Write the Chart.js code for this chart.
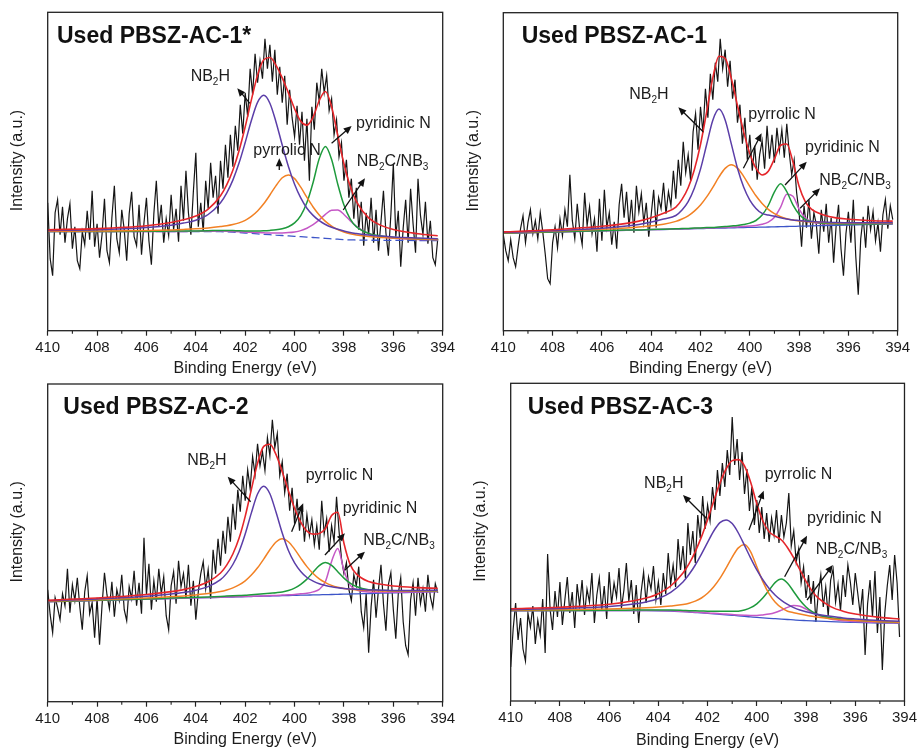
<!DOCTYPE html>
<html>
<head>
<meta charset="utf-8">
<title>N 1s XPS of used PBSZ-AC samples</title>
<script src="https://cdn.jsdelivr.net/npm/chart.js@4.4.1/dist/chart.umd.min.js"></script>
<style>
  body { margin: 0; background: #fff; width: 917px; height: 750px; overflow: hidden; position: relative; }
  canvas { position: absolute; }
</style>
</head>
<body>
<canvas id="p1" width="460" height="380" style="left:0px;top:0px"></canvas>
<canvas id="p2" width="457" height="380" style="left:460px;top:0px"></canvas>
<canvas id="p3" width="460" height="380" style="left:0px;top:370px"></canvas>
<canvas id="p4" width="460" height="380" style="left:460px;top:370px"></canvas>
<script>
// ---- data (binding energy in eV, intensity in arbitrary units) ----

const energyRaw = [
  410, 409.9, 409.8, 409.7, 409.6, 409.5, 409.4, 409.3, 409.2, 409.1,
  409, 408.9, 408.8, 408.7, 408.6, 408.5, 408.4, 408.3, 408.2, 408.1,
  408, 407.9, 407.8, 407.7, 407.6, 407.5, 407.4, 407.3, 407.2, 407.1,
  407, 406.9, 406.8, 406.7, 406.6, 406.5, 406.4, 406.3, 406.2, 406.1,
  406, 405.9, 405.8, 405.7, 405.6, 405.5, 405.4, 405.3, 405.2, 405.1,
  405, 404.9, 404.8, 404.7, 404.6, 404.5, 404.4, 404.3, 404.2, 404.1,
  404, 403.9, 403.8, 403.7, 403.6, 403.5, 403.4, 403.3, 403.2, 403.1,
  403, 402.9, 402.8, 402.7, 402.6, 402.5, 402.4, 402.3, 402.2, 402.1,
  402, 401.9, 401.8, 401.7, 401.6, 401.5, 401.4, 401.3, 401.2, 401.1,
  401, 400.9, 400.8, 400.7, 400.6, 400.5, 400.4, 400.3, 400.2, 400.1,
  400, 399.9, 399.8, 399.7, 399.6, 399.5, 399.4, 399.3, 399.2, 399.1,
  399, 398.9, 398.8, 398.7, 398.6, 398.5, 398.4, 398.3, 398.2, 398.1,
  398, 397.9, 397.8, 397.7, 397.6, 397.5, 397.4, 397.3, 397.2, 397.1,
  397, 396.9, 396.8, 396.7, 396.6, 396.5, 396.4, 396.3, 396.2, 396.1,
  396, 395.9, 395.8, 395.7, 395.6, 395.5, 395.4, 395.3, 395.2, 395.1,
  395, 394.9, 394.8, 394.7, 394.6, 394.5, 394.4, 394.3, 394.2
];

const energyFit = [410, 408, 406, 405, 404.5, 404, 403.5, 403, 402.75, 402.5, 402.25, 402,
  401.75, 401.5, 401.25, 401, 400.75, 400.5, 400.25, 400, 399.75, 399.5, 399.25, 399,
  398.75, 398.5, 398.25, 398, 397.75, 397.5, 397, 396.5, 396, 395, 394.2];

// unlabeled minor ticks between the labeled ones
const minorTicks = [409, 407, 405, 403, 401, 399, 397, 395];

// Used PBSZ-AC-1*
const rawP1 = [
  128, 72, 55, 118, 131, 96, 124, 88, 112, 127,
  82, 104, 70, 62, 99, 86, 120, 91, 140, 84,
  107, 73, 96, 132, 80, 68, 113, 145, 92, 78,
  121, 101, 70, 117, 139, 94, 85, 126, 76, 108,
  133, 90, 66, 117, 150, 104, 126, 88, 112, 95,
  136, 101, 122, 89, 145, 110, 160, 118, 96, 139,
  178, 104, 128, 99, 150, 122, 168, 133, 155, 117,
  170, 142, 186, 153, 196, 164, 205, 180, 226, 197,
  238, 214, 262, 236, 277, 248, 270, 252, 292, 262,
  286, 249, 281, 236, 264, 228, 255, 206, 241, 213,
  194, 225, 186, 219, 170, 212, 150, 224, 201, 248,
  229, 262, 238, 255, 220, 232, 196, 211, 174, 188,
  150, 171, 133, 152, 112, 143, 101, 129, 85, 118,
  96, 133, 88, 121, 80, 109, 140, 98, 75, 116,
  167, 94, 120, 64, 103, 131, 88, 142, 107, 78,
  152, 115, 96, 129, 87, 110, 73, 66, 92
];
const envP1 = [101.0, 102.1, 105.0, 108.2, 110.9, 114.6, 121.5, 134.9, 145.8, 160.5, 179.9, 203.9,
  230.8, 255.4, 270.9, 273.2, 265.4, 252.8, 237.8, 222.0, 209.5, 205.6, 213.6, 230.2,
  239.2, 224.0, 195.2, 166.9, 144.6, 129.4, 112.8, 105.3, 101.2, 96.9, 94.9];
const nb2hP1 = [100.3, 101.0, 103.2, 105.5, 107.6, 110.5, 116.2, 127.9, 137.6, 150.6, 167.6, 188.2,
  210.2, 228.3, 235.4, 227.5, 208.5, 185.7, 164.3, 146.5, 132.8, 122.5, 115.3, 110.0,
  106.2, 103.4, 101.4, 99.7, 98.2, 97.2, 95.6, 94.6, 93.8, 92.7, 91.9];
const pyrrolicP1 = [99.4, 99.7, 100.2, 100.8, 101.3, 101.9, 102.8, 104.1, 104.9, 106.1, 107.8, 110.4,
  114.3, 119.7, 126.9, 135.7, 145.1, 152.9, 155.8, 152.1, 143.5, 133.3, 123.7, 115.7,
  109.3, 104.6, 101.2, 98.7, 96.9, 95.8, 94.3, 93.3, 92.6, 91.7, 91.2];
const pyridinicP1 = [99.2, 99.3, 99.4, 99.6, 99.7, 99.8, 100.0, 100.3, 100.2, 100.1, 99.9, 99.8,
  99.8, 99.7, 99.9, 100.3, 100.9, 102.0, 104.0, 107.8, 115.1, 128.1, 148.2, 172.1,
  184.3, 171.2, 146.5, 125.6, 111.9, 104.1, 97.3, 94.7, 93.2, 91.8, 91.1];
const nb2cP1 = [99.1, 99.1, 99.2, 99.3, 99.3, 99.4, 99.5, 99.6, 99.5, 99.2, 98.9, 98.6,
  98.4, 98.1, 97.9, 97.7, 97.7, 97.8, 98.1, 98.8, 100.1, 102.5, 106.0, 110.8,
  116.3, 120.5, 120.6, 116.2, 110.0, 104.4, 97.1, 93.9, 92.5, 91.3, 90.7];
const baseP1 = [99, 99, 99, 99, 99, 99, 99, 99, 98.8, 98.5, 98.1, 97.7,
  97.3, 96.8, 96.4, 96, 95.6, 95.2, 94.8, 94.4, 94, 93.6, 93.2, 92.8,
  92.3, 91.9, 91.5, 91.1, 90.8, 90.7, 90.5, 90.4, 90.3, 90.2, 90];

// Used PBSZ-AC-1
const rawP2 = [
  96, 80, 70, 91, 73, 64, 84, 102, 115, 88,
  108, 121, 97, 110, 92, 118, 99, 77, 52, 47,
  88, 104, 83, 112, 95, 121, 104, 156, 110, 92,
  127, 101, 86, 138, 105, 124, 97, 112, 79, 132,
  90, 141, 103, 118, 86, 109, 82, 126, 147, 113,
  139, 104, 131, 98, 145, 119, 137, 108, 128, 94,
  116, 141, 103, 133, 122, 148, 117, 139, 125, 160,
  132, 171, 145, 189, 158, 176, 150, 199, 217, 181,
  224, 198, 242, 213, 257, 231, 268, 249, 292, 262,
  281, 244, 270, 232, 251, 208, 226, 187, 213, 171,
  196, 160, 185, 151, 176, 190, 162, 205, 172, 196,
  168, 203, 180, 201, 173, 207, 178, 156, 171, 138,
  118, 84, 125, 103, 131, 92, 118, 106, 77, 121,
  99, 127, 88, 113, 68, 104, 126, 82, 55, 97,
  119, 88, 131, 74, 36, 92, 114, 83, 125, 101,
  119, 90, 108, 79, 116, 131, 102, 125, 111
];
const envP2 = [98.8, 101.0, 104.4, 107.3, 109.6, 112.9, 117.4, 123.6, 131.3, 142.9, 161.0, 186.2,
  218.8, 252.8, 274.5, 272.4, 252.3, 225.2, 199.1, 177.3, 162.5, 155.7, 159.5, 171.9,
  185.4, 186.7, 168.7, 144.4, 129.1, 121.5, 115.7, 112.8, 111.5, 110.0, 109.6];
const nb2hP2 = [98.2, 100.0, 102.5, 104.7, 106.3, 108.6, 111.7, 115.2, 120.6, 129.1, 142.5, 161.6,
  186.2, 210.5, 221.6, 210.8, 186.8, 162.5, 143.7, 130.6, 122.3, 117.3, 115.6, 114.4,
  112.9, 111.8, 110.8, 110.2, 109.6, 109.1, 108.6, 108.1, 108.0, 107.9, 108.0];
const pyrrolicP2 = [97.9, 99.5, 101.4, 102.7, 103.6, 104.9, 106.4, 109.3, 111.7, 114.9, 119.6, 125.7,
  133.8, 143.4, 153.8, 162.3, 165.9, 162.6, 154.4, 144.3, 134.9, 127.2, 121.3, 117.0,
  114.0, 112.0, 110.6, 109.7, 109.1, 108.7, 108.1, 107.7, 107.6, 107.6, 107.7];
const pyridinicP2 = [97.5, 98.7, 100.0, 100.6, 100.8, 101.3, 101.5, 101.9, 102.2, 102.3, 102.6, 102.8,
  103.1, 103.3, 103.8, 104.1, 104.7, 105.3, 106.3, 107.6, 110.2, 115.6, 125.2, 138.8,
  147.0, 139.1, 125.8, 116.5, 111.4, 109.1, 107.4, 106.8, 106.6, 106.8, 107.1];
const nb2cP2 = [97.4, 98.6, 99.9, 100.5, 100.7, 101.1, 101.4, 101.7, 101.9, 102.0, 102.3, 102.4,
  102.6, 102.8, 103.1, 103.3, 103.6, 103.8, 104.3, 104.7, 105.3, 106.4, 108.5, 113.4,
  123.5, 136.4, 134.4, 121.5, 112.8, 109.0, 106.9, 106.4, 106.4, 106.6, 106.9];
const baseP2 = [97.4, 98.6, 99.8, 100.4, 100.6, 101, 101.2, 101.5, 101.7, 101.8, 102, 102.1,
  102.3, 102.4, 102.6, 102.7, 102.9, 103, 103.2, 103.3, 103.4, 103.6, 103.7, 103.9,
  104, 104.2, 104.3, 104.5, 104.6, 104.8, 105.1, 105.4, 105.7, 106.3, 106.7];

// Used PBSZ-AC-2
const rawP3 = [
  112, 87, 69, 104, 94, 82, 108, 96, 133, 89,
  117, 101, 124, 95, 72, 110, 126, 88, 99, 64,
  104, 57, 96, 129, 107, 93, 120, 85, 112, 101,
  127, 92, 81, 115, 103, 131, 96, 119, 88, 164,
  107, 138, 92, 121, 100, 133, 108, 125, 86, 72,
  116, 130, 98, 141, 115, 128, 104, 137, 96, 121,
  82, 110, 128, 140, 113, 132, 103, 152, 128, 163,
  136, 171, 148, 185, 160, 198, 172, 212, 190, 226,
  201, 232, 213, 245, 227, 258, 236, 250, 231, 264,
  246, 282, 254, 268, 226, 240, 209, 228, 191, 214,
  178, 203, 171, 196, 160, 187, 166, 182, 157, 176,
  152, 201, 168, 183, 150, 176, 160, 205, 171, 143,
  128, 139, 112, 101, 127, 116, 135, 90, 74, 108,
  49, 95, 122, 84, 113, 137, 98, 71, 117, 129,
  92, 63, 108, 124, 80, 56, 47, 102, 119, 86,
  124, 98, 113, 90, 127, 105, 94, 118, 109
];
const envP3 = [101.5, 103.7, 107.2, 110.1, 112.1, 115.2, 119.9, 128.7, 136.6, 147.7, 163.4, 185.3,
  212.3, 238.5, 255.3, 257.5, 247.0, 230.0, 211.0, 193.4, 179.6, 170.6, 167.6, 168.3,
  173.2, 186.2, 189.5, 158.5, 137.3, 127.8, 120.1, 117.5, 115.7, 114.1, 113.4];
const nb2hP3 = [100.9, 102.8, 105.5, 107.7, 109.2, 111.5, 115.1, 122.0, 128.3, 137.2, 150.0, 167.7,
  188.8, 207.7, 215.5, 208.0, 189.4, 168.7, 151.2, 138.8, 130.2, 124.2, 120.6, 117.9,
  116.2, 114.9, 114.0, 113.3, 112.8, 112.4, 111.8, 111.5, 111.2, 111.3, 111.4];
const pyrrolicP3 = [100.5, 102.0, 103.8, 105.1, 105.8, 106.8, 108.1, 110.1, 111.7, 113.8, 116.8, 120.9,
  126.6, 133.9, 142.6, 152.0, 159.7, 163.0, 160.0, 152.6, 143.6, 135.1, 128.2, 122.8,
  119.0, 116.3, 114.5, 113.3, 112.4, 111.9, 111.2, 110.8, 110.7, 110.8, 111.0];
const pyridinicP3 = [100.1, 101.5, 102.8, 103.6, 104.0, 104.4, 104.8, 105.3, 105.6, 105.9, 106.2, 106.5,
  107.0, 107.4, 107.9, 108.5, 109.0, 109.7, 111.2, 113.6, 117.4, 122.6, 129.4, 136.0,
  139.1, 136.3, 130.0, 123.6, 118.6, 115.2, 111.9, 111.3, 110.8, 110.7, 110.8];
const nb2cP3 = [100, 101.3, 102.6, 103.3, 103.6, 103.9, 104.2, 104.5, 104.8, 104.9, 105.1, 105.2,
  105.5, 105.7, 105.8, 106.1, 106.3, 106.6, 106.9, 107.3, 107.9, 108.5, 109.8, 112.3,
  120.2, 140.3, 153.2, 131.1, 116.6, 112.0, 109.8, 109.4, 109.4, 109.8, 110.2];
const baseP3 = [100, 101.3, 102.5, 103.2, 103.5, 103.8, 104.1, 104.4, 104.6, 104.7, 104.9, 105,
  105.2, 105.4, 105.5, 105.7, 105.8, 106, 106.1, 106.3, 106.5, 106.6, 106.8, 106.9,
  107.1, 107.2, 107.4, 107.6, 107.7, 107.9, 108.2, 108.5, 108.8, 109.5, 110];

// Used PBSZ-AC-3
const rawP4 = [
  34, 72, 98, 61, 83, 52, 40, 88, 74, 95,
  57, 81, 66, 102, 48, 147, 92, 71, 110, 84,
  119, 76, 101, 124, 88, 109, 73, 117, 95, 121,
  86, 112, 99, 128, 78, 106, 123, 90, 115, 82,
  129, 97, 118, 104, 133, 93, 111, 138, 100, 121,
  87, 116, 78, 109, 129, 98, 124, 112, 135, 101,
  119, 96, 128, 107, 148, 117, 136, 114, 162, 131,
  155, 123, 178, 146, 170, 138, 186, 163, 205, 172,
  196, 180, 214, 191, 231, 205, 238, 214, 251, 226,
  284, 236, 262, 221, 249, 207, 232, 190, 214, 176,
  201, 168, 194, 162, 188, 159, 183, 166, 191, 158,
  186, 164, 178, 208, 155, 170, 139, 152, 118, 134,
  103, 126, 97, 120, 79, 108, 126, 94, 114, 85,
  121, 132, 99, 117, 90, 126, 104, 136, 119, 96,
  128, 108, 87, 112, 46, 97, 121, 84, 130, 68,
  104, 31, 88, 115, 136, 101, 146, 118, 64
];
const envP4 = [92.3, 93.8, 96.7, 100.2, 102.9, 107.3, 115.0, 127.9, 137.3, 149.4, 164.1, 181.3,
  200.1, 217.9, 232.0, 240.4, 241.4, 235.0, 218.7, 197.3, 179.8, 169.3, 164.8, 161.0,
  153.3, 143.1, 131.3, 119.7, 109.9, 102.8, 94.4, 89.8, 87.0, 83.6, 82.0];
const nb2hP4 = [91.5, 92.5, 94.5, 97.1, 99.1, 102.5, 108.7, 119.1, 126.7, 136.0, 146.9, 158.6,
  170.0, 178.4, 181.1, 177.4, 168.0, 155.6, 142.9, 131.1, 121.0, 112.5, 105.8, 100.6,
  96.6, 93.4, 91.0, 89.2, 87.7, 86.6, 84.7, 83.1, 82.1, 80.5, 79.8];
const pyrrolicP4 = [90.9, 91.2, 92.0, 92.7, 93.2, 94.0, 95.1, 96.5, 97.8, 99.9, 103.0, 107.7,
  114.2, 122.6, 132.9, 143.9, 153.1, 156.4, 149.2, 134.2, 119.1, 107.1, 98.8, 93.3,
  89.8, 88.3, 87.0, 85.8, 84.7, 83.8, 82.3, 81.2, 80.4, 79.3, 78.7];
const pyridinicP4 = [90.5, 90.6, 90.7, 90.9, 91.0, 91.0, 91.0, 90.6, 90.3, 90.2, 90.0, 89.8,
  89.8, 89.7, 89.7, 89.7, 89.8, 91.0, 93.3, 97.2, 103.2, 110.9, 118.6, 121.9,
  117.8, 109.3, 100.7, 94.0, 89.3, 86.2, 83.3, 81.9, 80.8, 79.3, 78.6];
const nb2cP4 = [90.3, 90.4, 90.4, 90.4, 90.5, 90.4, 90.2, 89.6, 89.2, 88.8, 88.5, 88.0,
  87.7, 87.3, 86.9, 86.5, 86.1, 85.8, 85.6, 85.6, 86.1, 86.9, 88.5, 90.9,
  93.6, 95.4, 94.7, 91.9, 88.5, 85.6, 82.0, 80.3, 79.5, 78.5, 78.0];
const baseP4 = [90.3, 90.3, 90.3, 90.3, 90.3, 90.2, 90, 89.3, 88.9, 88.5, 88.1, 87.6,
  87.2, 86.7, 86.2, 85.7, 85.2, 84.6, 84.1, 83.6, 83.2, 82.7, 82.3, 81.9,
  81.5, 81.1, 80.7, 80.4, 80.1, 79.8, 79.3, 78.9, 78.6, 78, 77.7];

// ---- look ----
const FONT = '"Liberation Sans", Arial, Helvetica, sans-serif';
const TEXT = '#1c1c1c';
const colors = {
  raw: '#151515',
  envelope: '#e5262b',
  nb2h: '#5b3ea8',
  pyrrolic: '#f28124',
  pyridinic: '#1e9a3c',
  nb2c: '#c558c6',
  base: '#3d55c8'
};

// peak label text: [piece, isSubscript]
const labelText = {
  nb2h: [['NB', 0], ['2', 1], ['H', 0]],
  pyrrolic: [['pyrrolic N', 0]],
  pyridinic: [['pyridinic N', 0]],
  nb2c: [['NB', 0], ['2', 1], ['C/NB', 0], ['3', 1]]
};

function pts(xs, ys) {
  return xs.map((x, i) => ({ x: x, y: ys[i] }));
}

function fitSet(values, color, width, dash) {
  return {
    data: pts(energyFit, values),
    borderColor: color,
    borderWidth: width,
    borderDash: dash || [],
    pointRadius: 0,
    fill: false,
    cubicInterpolationMode: 'monotone'
  };
}

function drawRich(ctx, parts, x, y) {
  let cx = x;
  parts.forEach(p => {
    ctx.font = (p[1] ? '10px ' : '16px ') + FONT;
    ctx.fillText(p[0], cx, p[1] ? y + 4 : y);
    cx += ctx.measureText(p[0]).width;
  });
}

function drawArrow(ctx, x1, y1, x2, y2) {
  const a = Math.atan2(y2 - y1, x2 - x1);
  const c = Math.cos(a), s = Math.sin(a);
  ctx.beginPath();
  ctx.moveTo(x1, y1);
  ctx.lineTo(x2 - 5 * c, y2 - 5 * s);
  ctx.stroke();
  ctx.beginPath();
  ctx.moveTo(x2, y2);
  ctx.lineTo(x2 - 8 * c + 3.5 * s, y2 - 8 * s - 3.5 * c);
  ctx.lineTo(x2 - 8 * c - 3.5 * s, y2 - 8 * s + 3.5 * c);
  ctx.closePath();
  ctx.fill();
}

// frame, minor ticks, panel title, y title, peak labels and arrows
function decorPlugin(p) {
  return {
    id: 'decor',
    afterDatasetsDraw(chart) {
      const ctx = chart.ctx, a = chart.chartArea;
      const xs = chart.scales.x, ys = chart.scales.y;
      ctx.save();
      ctx.strokeStyle = '#222';
      ctx.lineWidth = 1.3;
      ctx.strokeRect(a.left, a.top, a.right - a.left, a.bottom - a.top);

      ctx.lineWidth = 1.1;
      minorTicks.forEach(v => {
        const px = xs.getPixelForValue(v);
        ctx.beginPath();
        ctx.moveTo(px, a.bottom);
        ctx.lineTo(px, a.bottom + 3);
        ctx.stroke();
      });

      ctx.fillStyle = '#111';
      ctx.textAlign = 'left';
      ctx.textBaseline = 'alphabetic';
      ctx.font = 'bold 23px ' + FONT;
      ctx.fillText(p.title, a.left + p.titleAt[0], a.top + p.titleAt[1]);

      ctx.save();
      ctx.translate(p.yTitleX, (a.top + a.bottom) / 2 - 11);
      ctx.rotate(-Math.PI / 2);
      ctx.font = '16px ' + FONT;
      ctx.fillStyle = TEXT;
      ctx.textAlign = 'center';
      ctx.textBaseline = 'middle';
      ctx.fillText('Intensity (a.u.)', 0, 0);
      ctx.restore();

      ctx.fillStyle = TEXT;
      ctx.textAlign = 'left';
      ctx.textBaseline = 'alphabetic';
      Object.keys(p.labels).forEach(k => {
        const l = p.labels[k];
        drawRich(ctx, labelText[k], xs.getPixelForValue(l[0]), ys.getPixelForValue(l[1]));
      });

      ctx.strokeStyle = '#111';
      ctx.fillStyle = '#111';
      ctx.lineWidth = 1.3;
      p.arrows.forEach(r => {
        drawArrow(ctx, xs.getPixelForValue(r[0]), ys.getPixelForValue(r[1]),
          xs.getPixelForValue(r[2]), ys.getPixelForValue(r[3]));
      });
      ctx.restore();
    }
  };
}

function makePanel(p) {
  const datasets = [
    fitSet(p.env, colors.envelope, 1.6),
    fitSet(p.nb2h, colors.nb2h, 1.5),
    fitSet(p.pyrrolic, colors.pyrrolic, 1.5),
    fitSet(p.pyridinic, colors.pyridinic, 1.5),
    fitSet(p.nb2c, colors.nb2c, 1.5),
    fitSet(p.base, colors.base, 1.3, p.dashedBase ? [8, 4] : []),
    {
      data: pts(energyRaw, p.raw),
      borderColor: colors.raw,
      borderWidth: 1.2,
      pointRadius: 0,
      fill: false,
      tension: 0
    }
  ];
  new Chart(document.getElementById(p.id), {
    type: 'line',
    data: { datasets: datasets },
    options: {
      responsive: false,
      animation: false,
      events: [],
      layout: { padding: { left: 0, top: p.area.top, right: p.area.right, bottom: 0 } },
      plugins: { legend: { display: false }, tooltip: { enabled: false } },
      scales: {
        x: {
          type: 'linear',
          reverse: true,
          min: 394,
          max: 410,
          afterFit: s => { s.height = p.h - p.area.bottom; },
          border: { display: false },
          grid: { drawOnChartArea: false, drawTicks: true, tickLength: 5, tickColor: '#222', tickWidth: 1.2 },
          ticks: {
            stepSize: 2,
            autoSkip: false,
            maxRotation: 0,
            padding: 3,
            color: TEXT,
            font: { family: FONT, size: 15 }
          },
          title: {
            display: true,
            text: 'Binding Energy (eV)',
            color: TEXT,
            font: { family: FONT, size: 16 },
            padding: { top: 0, bottom: p.xTitlePad }
          }
        },
        y: {
          min: 0,
          max: p.area.bottom - p.area.top,
          afterFit: s => { s.width = p.area.left; },
          ticks: { display: false },
          grid: { display: false },
          border: { display: false }
        }
      }
    },
    plugins: [decorPlugin(p)]
  });
}

makePanel({
  id: 'p1', h: 380, title: 'Used PBSZ-AC-1*', titleAt: [9.3, 31], yTitleX: 17.5, xTitlePad: 1.4,
  area: { left: 47.7, top: 12.3, right: 17.3, bottom: 330.7 },
  raw: rawP1, env: envP1, nb2h: nb2hP1, pyrrolic: pyrrolicP1, pyridinic: pyridinicP1, nb2c: nb2cP1, base: baseP1,
  dashedBase: true,
  labels: { nb2h: [404.21, 249.7], pyrrolic: [401.67, 175.7], pyridinic: [397.51, 202.4], nb2c: [397.48, 165] },
  arrows: [[401.81, 227.4, 402.32, 242.4], [400.62, 160.7, 400.62, 172.4], [398.5, 187.4, 397.69, 204.7], [398.03, 120.7, 397.15, 152.4]]
});

makePanel({
  id: 'p2', h: 380, title: 'Used PBSZ-AC-1', titleAt: [18.4, 30], yTitleX: 14, xTitlePad: 1.4,
  area: { left: 43.3, top: 12.7, right: 19.3, bottom: 330.7 },
  raw: rawP2, env: envP2, nb2h: nb2hP2, pyrrolic: pyrrolicP2, pyridinic: pyridinicP2, nb2c: nb2cP2, base: baseP2,
  dashedBase: false,
  labels: { nb2h: [404.89, 231.7], pyrrolic: [400.06, 211.7], pyridinic: [397.76, 179], nb2c: [397.18, 145.7] },
  arrows: [[401.89, 199, 402.9, 223.4], [400.26, 162.4, 399.52, 197.4], [398.57, 145.7, 397.69, 169], [397.96, 122.4, 397.15, 142.4]]
});

makePanel({
  id: 'p3', h: 380, title: 'Used PBSZ-AC-2', titleAt: [15.6, 30.3], yTitleX: 17.5, xTitlePad: 0.4,
  area: { left: 47.7, top: 14, right: 17.3, bottom: 331.7 },
  raw: rawP3, env: envP3, nb2h: nb2hP3, pyrrolic: pyrrolicP3, pyridinic: pyridinicP3, nb2c: nb2cP3, base: baseP3,
  dashedBase: false,
  labels: { nb2h: [404.35, 236.7], pyrrolic: [399.55, 221.7], pyridinic: [398.05, 189], nb2c: [397.22, 156.7] },
  arrows: [[401.78, 200, 402.71, 225], [400.12, 170, 399.65, 198.4], [398.77, 146.7, 397.96, 168.4], [397.96, 131.7, 397.15, 150]]
});

makePanel({
  id: 'p4', h: 380, title: 'Used PBSZ-AC-3', titleAt: [17, 31], yTitleX: 20.8, xTitlePad: 0,
  area: { left: 50.7, top: 13.3, right: 15, bottom: 331 },
  raw: rawP4, env: envP4, nb2h: nb2hP4, pyrrolic: pyrrolicP4, pyridinic: pyridinicP4, nb2c: nb2cP4, base: baseP4,
  dashedBase: false,
  labels: { nb2h: [404.58, 213.3], pyrrolic: [399.68, 221.7], pyridinic: [397.96, 177.7], nb2c: [397.61, 146.7] },
  arrows: [[402.05, 182.7, 403, 206], [400.32, 171, 399.72, 210.3], [398.87, 124.3, 397.96, 165.3], [397.96, 101, 396.91, 136]]
});
</script>
</body>
</html>
